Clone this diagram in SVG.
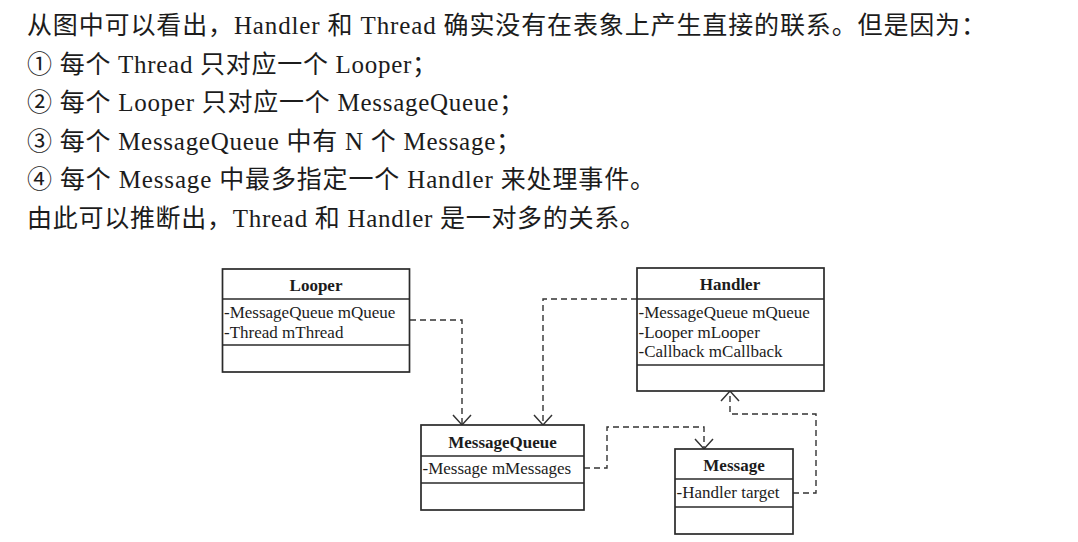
<svg xmlns="http://www.w3.org/2000/svg" width="1078" height="542" viewBox="0 0 1078 542">
<style>
.t{font-family:"Liberation Serif","Noto Sans CJK SC",serif;font-size:25px;fill:#1c1c1c}
.box{fill:#fff;stroke:#2a2a2a;stroke-width:1.7}
.div{stroke:#2a2a2a;stroke-width:1.5}
.ttl{font-family:"Liberation Serif",serif;font-size:17px;font-weight:bold;fill:#1c1c1c;text-anchor:middle}
.at{font-family:"Liberation Serif",serif;font-size:17px;fill:#1c1c1c}
.c{fill:none;stroke:#333;stroke-width:1.4;stroke-dasharray:6 4}
</style>
<defs>
<marker id="open" markerUnits="userSpaceOnUse" markerWidth="24" markerHeight="24" viewBox="-12 -12 24 24" refX="0" refY="0" orient="auto">
<path d="M-10,-9 L0,0 L-10,9" fill="none" stroke="#333" stroke-width="1.5"/>
</marker>
</defs>
<rect width="1078" height="542" fill="#fff"/>
<g id="text">
<text class="t" x="27" y="34" textLength="959" lengthAdjust="spacing">从图中可以看出，Handler 和 Thread 确实没有在表象上产生直接的联系。但是因为：</text>
<text class="t" x="27" y="73" textLength="410" lengthAdjust="spacing">① 每个 Thread 只对应一个 Looper；</text>
<text class="t" x="27" y="111" textLength="497" lengthAdjust="spacing">② 每个 Looper 只对应一个 MessageQueue；</text>
<text class="t" x="27" y="150" textLength="494" lengthAdjust="spacing">③ 每个 MessageQueue 中有 N 个 Message；</text>
<text class="t" x="27" y="188" textLength="628" lengthAdjust="spacing">④ 每个 Message 中最多指定一个 Handler 来处理事件。</text>
<text class="t" x="27" y="227" textLength="618" lengthAdjust="spacing">由此可以推断出，Thread 和 Handler 是一对多的关系。</text>
</g>
<g id="connectors">
<path class="c" d="M410,320 H462 V425" marker-end="url(#open)"/>
<path class="c" d="M637,299 H543 V425" marker-end="url(#open)"/>
<path class="c" d="M584,468 H607 V427 H704 V449" marker-end="url(#open)"/>
<path class="c" d="M793,493 H816 V414 H730 V391" marker-end="url(#open)"/>
</g>
<g id="Looper">
<rect class="box" x="222.5" y="269" width="187" height="103"/>
<line class="div" x1="222.5" y1="299" x2="409.5" y2="299"/>
<line class="div" x1="222.5" y1="345" x2="409.5" y2="345"/>
<text class="ttl" x="316" y="291">Looper</text>
<text class="at" x="224" y="318">-MessageQueue mQueue</text>
<text class="at" x="224" y="338">-Thread mThread</text>
</g>
<g id="Handler">
<rect class="box" x="637" y="268" width="187" height="123"/>
<line class="div" x1="637" y1="299" x2="824" y2="299"/>
<line class="div" x1="637" y1="365" x2="824" y2="365"/>
<text class="ttl" x="730" y="290">Handler</text>
<text class="at" x="638.5" y="318">-MessageQueue mQueue</text>
<text class="at" x="638.5" y="338">-Looper mLooper</text>
<text class="at" x="638.5" y="357">-Callback mCallback</text>
</g>
<g id="MessageQueue">
<rect class="box" x="421" y="425" width="163" height="85"/>
<line class="div" x1="421" y1="456" x2="584" y2="456"/>
<line class="div" x1="421" y1="483" x2="584" y2="483"/>
<text class="ttl" x="502.5" y="448">MessageQueue</text>
<text class="at" x="422.5" y="474">-Message mMessages</text>
</g>
<g id="Message">
<rect class="box" x="675" y="449" width="118" height="85"/>
<line class="div" x1="675" y1="479" x2="793" y2="479"/>
<line class="div" x1="675" y1="507" x2="793" y2="507"/>
<text class="ttl" x="734" y="471">Message</text>
<text class="at" x="676.5" y="498">-Handler target</text>
</g>
</svg>
